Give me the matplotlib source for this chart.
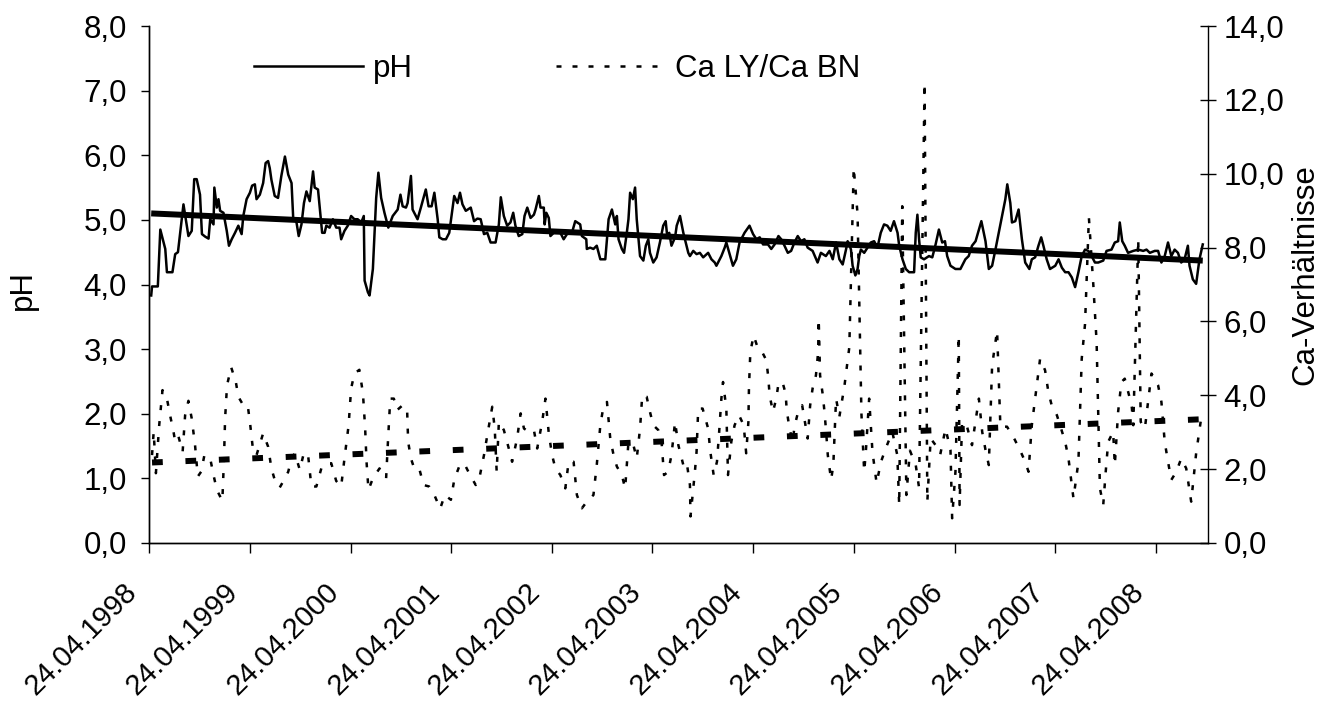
import numpy as np
import pandas as pd
import matplotlib
matplotlib.use("Agg")
import matplotlib.pyplot as plt
import matplotlib.transforms as mtransforms

# --- data (days after 24.04.1998) ---
start = pd.Timestamp("1998-04-24")

ph_days = [8, 11, 32, 41, 59, 65, 85, 95, 105, 113, 125, 143, 155, 164, 173, 185, 192, 204, 216, 222,
           234, 237, 246, 252, 258, 270, 282, 290, 300, 312, 324, 336, 342, 354, 366, 374, 384, 390, 402, 414,
           423, 432, 438, 444, 456, 468, 480, 493, 505, 517, 523, 535, 543, 553, 562, 571, 583, 595, 601, 613,
           623, 628, 637, 643, 655, 667, 679, 691, 697, 709, 721, 733, 745, 757, 770, 779, 782, 794, 800, 812,
           824, 832, 842, 854, 868, 884, 902, 912, 920, 932, 938, 950, 956, 974, 986, 1004, 1014, 1025, 1035, 1047,
           1053, 1065, 1077, 1089, 1107, 1119, 1128, 1137, 1149, 1167, 1179, 1191, 1203, 1215, 1227, 1239, 1257, 1269, 1276,
           1287, 1299, 1311, 1321, 1329, 1341, 1354, 1362, 1372, 1384, 1396, 1402, 1414, 1420, 1432, 1435, 1441, 1450, 1456,
           1468, 1492, 1504, 1516, 1534, 1546, 1564, 1570, 1586, 1588, 1600, 1612, 1624, 1637, 1655, 1667, 1679, 1691, 1697,
           1703, 1715, 1723, 1733, 1739, 1745, 1755, 1763, 1769, 1781, 1793, 1802, 1811, 1817, 1829, 1841, 1853, 1865, 1874,
           1880, 1887, 1895, 1908, 1914, 1926, 1938, 1956, 1962, 1974, 1986, 1998, 2010, 2028, 2040, 2052, 2058, 2076, 2088,
           2094, 2106, 2118, 2130, 2142, 2160, 2178, 2191, 2203, 2215, 2227, 2245, 2257, 2269, 2283, 2293, 2305, 2317, 2329,
           2341, 2353, 2365, 2377, 2389, 2407, 2425, 2437, 2455, 2468, 2480, 2492, 2504,
           2516, 2528, 2534, 2540, 2546, 2552, 2562, 2570, 2576, 2582, 2594, 2606, 2618, 2630, 2642, 2654, 2666, 2678, 2690,
           2702, 2715, 2721, 2733, 2745, 2757, 2775, 2781, 2787, 2793, 2799, 2811, 2829, 2841, 2853, 2865, 2877, 2887, 2895,
           2907, 2925, 2943, 2961, 2973, 2985, 2998, 3010, 3019, 3034, 3046, 3058, 3070, 3082, 3096, 3106, 3113, 3124, 3130,
           3142, 3154, 3166, 3178, 3193, 3202, 3214, 3226, 3236, 3244, 3256, 3268, 3287, 3299, 3311, 3323, 3335, 3347, 3359,
           3371, 3383, 3395, 3407, 3419, 3431, 3443, 3461, 3473, 3491, 3503, 3515, 3521, 3530, 3539, 3551, 3570, 3588, 3606,
           3618, 3630, 3648, 3660, 3672, 3684, 3696, 3708, 3720, 3732, 3744, 3756, 3768, 3774, 3786, 3798, 3810, 3822]
ph_vals = [3.83, 3.97, 3.97, 4.85, 4.55, 4.19, 4.19, 4.47, 4.50, 4.80, 5.24, 4.75, 4.83, 5.63, 5.63, 5.39, 4.78, 4.74, 4.71, 5.01,
           4.93, 5.50, 5.19, 5.32, 5.14, 5.11, 4.83, 4.60, 4.70, 4.80, 4.91, 4.78, 5.06, 5.32, 5.42, 5.53, 5.55, 5.32, 5.39, 5.57,
           5.88, 5.91, 5.80, 5.62, 5.37, 5.34, 5.68, 5.98, 5.70, 5.57, 5.03, 4.96, 4.75, 4.93, 5.26, 5.44, 5.29, 5.75, 5.50, 5.47,
           5.03, 4.80, 4.80, 4.91, 4.88, 5.01, 4.88, 4.88, 4.70, 4.83, 4.91, 5.06, 5.01, 5.01, 4.96, 5.06, 4.06, 3.88, 3.83, 4.24,
           5.34, 5.73, 5.34, 5.11, 4.88, 5.06, 5.16, 5.39, 5.21, 5.19, 5.26, 5.68, 5.16, 5.01, 5.19, 5.47, 5.21, 5.21, 5.42, 5.01,
           4.73, 4.70, 4.70, 4.80, 5.37, 5.26, 5.42, 5.24, 5.14, 5.19, 4.98, 5.02, 5.01, 4.78, 4.80, 4.65, 4.65, 4.93, 5.35,
           5.06, 4.91, 4.96, 5.11, 4.91, 4.75, 4.78, 5.06, 5.19, 5.03, 5.08, 5.16, 5.37, 5.19, 5.19, 4.93, 5.11, 5.03, 4.75,
           4.80, 4.80, 4.70, 4.78, 4.80, 4.98, 4.93, 4.75, 4.70, 4.55, 4.57, 4.55, 4.60, 4.39, 4.39, 5.01, 5.16, 4.93, 5.06,
           4.70, 4.55, 4.49, 4.80, 5.01, 5.42, 5.32, 5.50, 5.01, 4.44, 4.37, 4.60, 4.70, 4.49, 4.34, 4.42, 4.65, 4.91, 4.98,
           4.73, 4.80, 4.60, 4.73, 4.91, 5.06, 4.80, 4.49, 4.44, 4.52, 4.47, 4.49, 4.42, 4.49, 4.39, 4.34, 4.29, 4.44, 4.57,
           4.65, 4.47, 4.29, 4.39, 4.65, 4.80, 4.91, 4.78, 4.70, 4.73, 4.62, 4.62, 4.55, 4.62, 4.75, 4.70, 4.60, 4.49, 4.52,
           4.65, 4.75, 4.67, 4.70, 4.57, 4.52, 4.34, 4.49, 4.44, 4.52, 4.39, 4.65, 4.39,
           4.31, 4.54, 4.67, 4.62, 4.54, 4.29, 4.14, 4.24, 4.44, 4.54, 4.49, 4.57, 4.65, 4.67, 4.57, 4.80, 4.93, 4.91, 4.83,
           4.98, 4.80, 4.60, 4.39, 4.24, 4.19, 4.19, 4.80, 5.08, 4.70, 4.42, 4.39, 4.44, 4.42, 4.62, 4.85, 4.65, 4.67, 4.44,
           4.29, 4.24, 4.24, 4.39, 4.44, 4.60, 4.67, 4.85, 4.98, 4.67, 4.24, 4.29, 4.54, 4.80, 5.11, 5.32, 5.55, 5.26, 4.96,
           4.98, 5.16, 4.70, 4.34, 4.24, 4.39, 4.42, 4.60, 4.73, 4.60, 4.39, 4.24, 4.29, 4.39, 4.26, 4.19, 4.19, 4.11, 3.96,
           4.19, 4.44, 4.54, 4.52, 4.44, 4.34, 4.34, 4.37, 4.52, 4.54, 4.65, 4.67, 4.96, 4.67, 4.60, 4.49, 4.52, 4.54, 4.52,
           4.54, 4.49, 4.52, 4.52, 4.34, 4.44, 4.65, 4.44, 4.54, 4.49, 4.34, 4.39, 4.60, 4.29, 4.08, 4.01, 4.39, 4.62]

ca_days = [11, 17, 25, 37, 49, 65, 77, 89, 95, 107, 122, 131, 143, 155, 167, 177, 189, 201, 222, 234,
           246, 266, 272, 276, 283, 298, 315, 324, 342, 358, 366, 378, 390, 414, 432, 444, 456, 474, 493, 505,
           517, 529, 547, 562, 577, 589, 607, 625, 643, 661, 679, 697, 709, 724, 733, 745, 763, 776, 784, 789,
           796, 812, 836, 860, 866, 875, 888, 900, 920, 936, 940, 950, 962, 980, 996, 1016, 1035, 1056, 1073, 1095,
           1107, 1125, 1143, 1161, 1185, 1197, 1215, 1227, 1245, 1254, 1261, 1269,
           1287, 1305, 1317, 1335, 1348, 1360, 1378, 1396, 1408, 1426, 1438, 1450, 1462, 1474, 1492, 1510, 1522, 1540,
           1552, 1570, 1588, 1612, 1624, 1637, 1649, 1661, 1673, 1685, 1697, 1715, 1727, 1739, 1757, 1769, 1781, 1789,
           1805, 1817, 1829, 1847, 1859, 1868, 1883, 1895, 1908, 1920, 1938, 1950, 1962, 1964, 1980, 1986, 1992, 2008,
           2028, 2036, 2048, 2060, 2068, 2076, 2082, 2094, 2097, 2100, 2112, 2124, 2140, 2157, 2166, 2174, 2176, 2181,
           2193, 2209, 2224, 2239, 2246, 2251, 2263, 2275, 2284, 2299, 2309, 2313, 2323, 2335, 2341, 2353, 2369, 2377,
           2389, 2398, 2407, 2419, 2427, 2429, 2434, 2444, 2450, 2456, 2462, 2474, 2482, 2492,
           2504, 2522, 2540, 2556, 2570, 2584, 2594, 2600, 2612, 2624, 2639, 2655, 2672, 2696, 2714, 2721, 2732, 2747,
           2760, 2781, 2793, 2813, 2823, 2835, 2853, 2870, 2889, 2907, 2913, 2925, 2937, 2940, 2949, 2967, 2985, 3010,
           3022, 3034, 3046, 3058, 3076, 3088, 3112, 3140, 3160, 3178, 3190, 3202, 3232, 3250, 3262, 3274, 3293, 3323,
           3335, 3353, 3371, 3383, 3395, 3409, 3425, 3437, 3449, 3461, 3470, 3479, 3497, 3503, 3515, 3527, 3539, 3564,
           3570, 3588, 3597, 3612, 3636, 3660, 3672, 3684, 3696, 3708, 3726, 3744, 3762, 3780, 3798, 3816]
ca_vals = [2.38, 3.01, 1.89, 3.19, 4.14, 3.91, 3.44, 3.01, 2.74, 2.88, 2.47, 3.46, 3.85, 3.37, 2.65, 1.80, 1.93, 2.38, 2.29, 1.84,
           1.44, 1.14, 2.29, 3.37, 4.27, 4.76, 4.36, 3.96, 3.73, 3.73, 3.28, 2.47, 2.38, 2.97, 2.61, 2.02, 1.71, 1.50, 1.75, 1.93,
           2.29, 2.43, 1.98, 2.45, 2.38, 1.53, 1.53, 2.02, 2.16, 2.16, 1.68, 1.53, 2.29, 3.19, 4.18, 4.59, 4.69, 4.05, 3.10, 2.20,
           1.44, 1.75, 2.02, 1.75, 2.65, 3.91, 3.91, 3.60, 3.73, 3.64, 2.74, 2.29, 2.02, 2.02, 1.57, 1.53, 1.30, 0.93, 1.30, 1.17,
           1.71, 2.07, 2.16, 1.89, 1.57, 1.71, 2.38, 2.92, 3.69, 3.10, 1.93, 3.28,
           3.06, 2.56, 2.20, 2.83, 3.51, 3.10, 3.01, 3.06, 2.56, 3.28, 3.91, 2.97, 2.38, 2.02, 1.84, 1.48, 2.20, 2.20,
           1.30, 0.94, 1.12, 1.30, 2.11, 3.19, 3.73, 3.82, 2.83, 2.38, 2.07, 1.84, 1.48, 2.74, 2.65, 2.29, 3.10, 4.00,
           3.96, 3.55, 3.19, 3.06, 2.74, 1.84, 1.93, 2.38, 3.28, 2.65, 2.11, 2.20, 1.57, 0.72, 1.93, 2.47, 3.64, 3.64,
           3.10, 2.47, 1.84, 2.20, 3.01, 3.91, 4.36, 3.64, 2.74, 1.84, 2.74, 3.19, 3.46, 3.19, 2.43, 3.28, 4.19, 5.17,
           5.62, 5.26, 5.17, 4.95, 4.50, 4.00, 3.55, 3.91, 4.36, 4.32, 4.05, 3.60, 3.10, 2.74, 3.15, 3.51, 3.73, 3.37,
           2.83, 3.73, 4.19, 4.54, 5.17, 6.07, 4.54, 4.00, 3.55, 3.01, 2.38, 1.71, 2.11, 3.91,
           3.42, 4.23, 5.30, 10.17, 8.90, 3.50, 1.93, 2.47, 3.91, 2.47, 1.62, 2.20, 2.56, 3.01, 2.38, 1.03, 9.12, 1.30,
           2.50, 2.11, 1.50, 12.46, 1.12, 2.83, 2.65, 2.40, 3.10, 2.52, 0.67, 1.93, 5.62, 1.03, 3.28, 3.15, 2.65, 3.91,
           3.01, 2.52, 2.11, 4.81, 5.75, 3.15, 3.15, 2.80, 2.50, 2.20, 1.93, 3.19, 4.99, 4.68, 4.09, 3.73, 3.46, 2.74,
           2.29, 1.21, 2.20, 4.99, 5.93, 8.81, 7.00, 5.44, 1.48, 1.03, 1.93, 2.74, 3.01, 2.11, 3.55, 4.36, 4.45, 3.73,
           3.19, 8.23, 3.28, 3.10, 4.59, 4.27, 3.82, 2.74, 2.20, 1.71, 1.93, 2.29, 2.02, 1.12, 2.43, 3.37]

ph_trend = [5.10, 4.37]
ca_trend = [2.18, 3.35]

tick_years = list(range(1998, 2009))
ph_ticks = [0, 1, 2, 3, 4, 5, 6, 7, 8]
ca_ticks = [0, 2, 4, 6, 8, 10, 12, 14]

plt.rcParams['font.family'] = ['Liberation Sans', 'DejaVu Sans']
fs = 22.5

ph_dates = start + pd.to_timedelta(ph_days, unit="D")
ca_dates = start + pd.to_timedelta(ca_days, unit="D")

fig = plt.figure(figsize=(13.27, 7.07), dpi=100)
ax = fig.add_axes([149 / 1327, 1 - 543 / 707, (1208 - 149) / 1327, (543 - 26) / 707])
ax2 = ax.twinx()

l_ph, = ax.plot(ph_dates, ph_vals, color="black", lw=1.8)
ax.plot([ph_dates[0], ph_dates[-1]], ph_trend, color="black", lw=4.3, solid_capstyle="butt")

l_ca, = ax2.plot(ca_dates, ca_vals, color="black", lw=1.8, linestyle=(0, (2.0, 4.4)), dash_capstyle="butt")
ax2.plot([ca_dates[0], ca_dates[-1]], ca_trend, color="black", lw=4.3,
         linestyle=(0, (1.8, 3.8)), dash_capstyle="butt")

ax.set_xlim(start, start + pd.Timedelta(days=3841))
ax.set_ylim(0, 8)
ax2.set_ylim(0, 14)

xt = [pd.Timestamp(f"{y}-04-24") for y in tick_years]
ax.set_xticks(xt)
ax.set_xticklabels([f"24.04.{y}" for y in tick_years], fontsize=21)
ax.set_yticks(ph_ticks)
ax.set_yticklabels([f"{v:.1f}".replace(".", ",") for v in ph_ticks], fontsize=fs)
ax2.set_yticks(ca_ticks)
ax2.set_yticklabels([f"{v:.1f}".replace(".", ",") for v in ca_ticks], fontsize=fs)

for a in (ax, ax2):
    a.spines["top"].set_visible(False)
    for s in a.spines.values():
        s.set_linewidth(1.0)
ax.spines["right"].set_visible(False)

ax.tick_params(axis="y", direction="out", length=6, width=1.0, pad=10)
ax.tick_params(axis="x", direction="out", length=7, width=1.0, pad=18)
ax2.tick_params(axis="y", direction="inout", length=12, width=1.0, pad=5)

# rotated date labels, shifted so they end just left of their tick
off = mtransforms.ScaledTranslation(-26 / 100, 0, fig.dpi_scale_trans)
for lab in ax.get_xticklabels():
    lab.set_rotation(45)
    lab.set_ha("right")
    lab.set_va("top")
    lab.set_rotation_mode("anchor")
    lab.set_transform(lab.get_transform() + off)

ax.set_ylabel("pH", fontsize=fs)
ax.yaxis.set_label_coords(-0.105, 0.49)
ax2.set_ylabel("Ca-Verhältnisse", fontsize=fs)
ax2.yaxis.set_label_coords(1.078, 0.52)

fig.legend([l_ph, l_ca], ["pH", "Ca LY/Ca BN"], ncol=2, frameon=False, loc="upper left",
           bbox_to_anchor=(254 / 1327, 1 - 54 / 707), borderpad=0, borderaxespad=0,
           handlelength=3.5, handletextpad=0.3, columnspacing=4.6, fontsize=fs)

fig.savefig("out.png", dpi=100)
